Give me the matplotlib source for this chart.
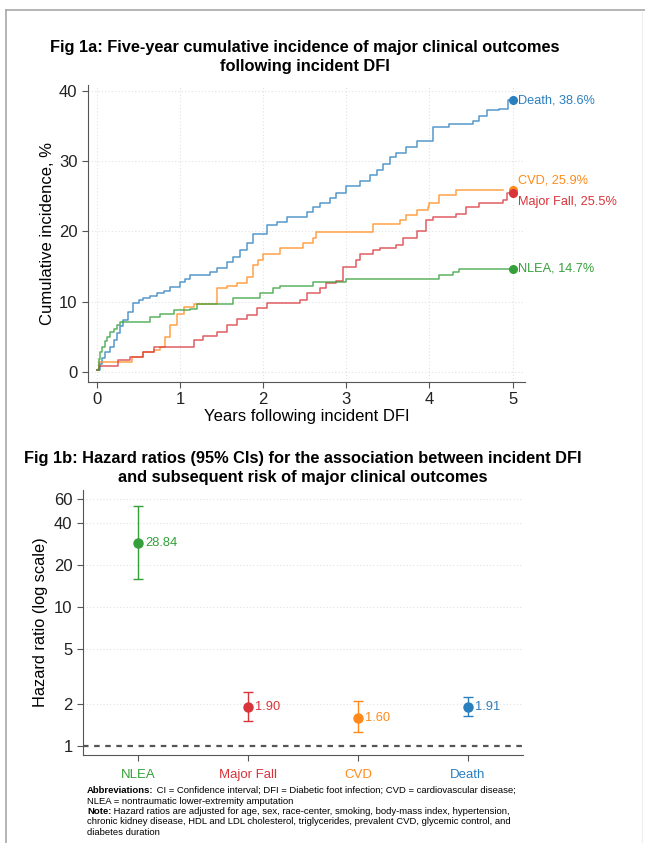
import matplotlib
matplotlib.use("Agg")
import matplotlib.pyplot as plt
from matplotlib.lines import Line2D
from matplotlib.ticker import FixedLocator, NullLocator

plt.rcParams["font.family"] = ["Liberation Sans", "DejaVu Sans"]

# Fig 1a: cumulative incidence step curves (years, %)
death_t = [0, 0.03, 0.06, 0.1, 0.16, 0.2, 0.24, 0.28, 0.31, 0.37, 0.43, 0.5, 0.55, 0.64, 0.72, 0.8,
           0.88, 1.0, 1.06, 1.12, 1.36, 1.44, 1.56, 1.64, 1.72, 1.8, 1.88, 2.04, 2.16, 2.28, 2.52,
           2.6, 2.68, 2.8, 2.88, 3.0, 3.16, 3.28, 3.37, 3.44, 3.52, 3.6, 3.72, 3.85, 4.04, 4.24,
           4.52, 4.6, 4.69, 4.84, 4.95, 5.0]
death_y = [0.3, 1.2, 2.0, 2.8, 3.6, 4.5, 5.5, 6.5, 7.4, 8.6, 9.8, 10.3, 10.5, 10.8, 11.2, 11.6,
           12.1, 12.8, 13.3, 13.8, 14.2, 14.8, 15.6, 16.3, 17.3, 18.4, 19.7, 20.9, 21.4, 22.0, 22.8,
           23.5, 24.1, 24.8, 25.4, 26.5, 27.2, 28.0, 28.7, 29.6, 30.5, 31.2, 32.0, 32.9, 34.8, 35.3,
           35.7, 36.4, 37.2, 37.4, 38.6, 38.6]

cvd_t = [0, 0.02, 0.42, 0.55, 0.68, 0.76, 0.82, 0.88, 0.96, 1.04, 1.16, 1.44, 1.56, 1.68, 1.8,
         1.88, 1.94, 2.0, 2.2, 2.48, 2.6, 2.64, 3.32, 3.64, 3.72, 3.85, 3.98, 4.0, 4.12, 4.32, 4.88]
cvd_y = [0.3, 1.4, 2.1, 2.8, 3.2, 3.6, 5.0, 6.7, 8.3, 9.2, 9.7, 11.9, 12.3, 12.6, 13.5,
         15.2, 16.0, 16.8, 17.7, 18.3, 19.1, 19.9, 21.1, 21.6, 22.3, 23.0, 23.4, 24.1, 25.1, 25.9, 25.9]

fall_t = [0, 0.02, 0.25, 0.4, 0.55, 0.68, 1.16, 1.28, 1.44, 1.56, 1.68, 1.8, 1.92, 2.04, 2.44,
          2.52, 2.68, 2.76, 2.88, 2.96, 3.12, 3.16, 3.32, 3.4, 3.6, 3.68, 3.85, 3.96, 4.04, 4.32,
          4.44, 4.6, 4.88, 4.93, 5.0]
fall_y = [0.3, 0.85, 1.7, 2.1, 2.8, 3.6, 4.5, 5.2, 5.7, 6.7, 7.6, 8.1, 9.1, 9.8, 10.2,
          11.2, 11.9, 12.6, 13.0, 14.9, 15.9, 16.8, 17.3, 17.7, 18.0, 19.1, 20.1, 21.6, 22.0, 22.5,
          23.4, 24.1, 24.4, 25.5, 25.5]

nlea_t = [0, 0.02, 0.04, 0.06, 0.09, 0.12, 0.16, 0.2, 0.24, 0.28, 0.64, 0.76, 0.92, 1.12, 1.2,
          1.64, 1.84, 1.96, 2.12, 2.2, 2.6, 3.0, 4.12, 4.28, 4.36, 5.0]
nlea_y = [0.3, 1.8, 2.8, 3.6, 4.4, 5.0, 5.7, 6.2, 6.7, 7.1, 7.8, 8.3, 8.8, 9.0, 9.7,
          10.5, 10.6, 11.2, 11.9, 12.3, 12.8, 13.3, 13.8, 14.2, 14.7, 14.7]

end_labels = ["Death, 38.6%", "CVD, 25.9%", "Major Fall, 25.5%", "NLEA, 14.7%"]
end_values = [38.6, 25.9, 25.5, 14.7]

# Fig 1b: hazard ratios
outcomes = ["NLEA", "Major Fall", "CVD", "Death"]
hr = [28.84, 1.90, 1.60, 1.91]
hr_lo = [15.9, 1.50, 1.26, 1.64]
hr_hi = [53.6, 2.46, 2.11, 2.26]
hr_ticks = [1, 2, 5, 10, 20, 40, 60]

blue = "#2a7fbf"
orange = "#ff8a1a"
red = "#d8343a"
green = "#34a039"

fig = plt.figure(figsize=(6.45, 8.43), dpi=100)

# page frame
fig.add_artist(Line2D([6 / 645, 1.0], [1 - 10 / 843] * 2, color="#a8a8a8", lw=1.2))
fig.add_artist(Line2D([6 / 645] * 2, [0, 1 - 10 / 843], color="#a8a8a8", lw=1.2))
fig.add_artist(Line2D([642 / 645] * 2, [0, 1 - 12 / 843], color="#f0f0f0", lw=1.0))

# ---- Fig 1a ----
ax1 = fig.add_axes([88 / 645, 1 - 382 / 843, 437 / 645, 297 / 843])
curves = [(death_t, death_y, blue), (cvd_t, cvd_y, orange),
          (fall_t, fall_y, red), (nlea_t, nlea_y, green)]
for t, y, c in curves:
    ax1.plot(t, y, drawstyle="steps-post", color=c, lw=1.1, alpha=0.8)
for (t, y, c), v in zip(curves, end_values):
    ax1.plot([5], [v], "o", color=c, ms=5.5)

label_dy = [0, 1.3, -1.3, 0]
for (t, y, c), v, lab, dy in zip(curves, end_values, end_labels, label_dy):
    ax1.annotate(lab, xy=(5, v + dy), xytext=(4, 0), textcoords="offset points",
                 color=c, fontsize=9.2, va="center", ha="left", annotation_clip=False)

ax1.set_xlim(-0.11, 5.15)
ax1.set_ylim(-1.4, 40.8)
ax1.set_xticks([0, 1, 2, 3, 4, 5])
ax1.set_yticks([0, 10, 20, 30, 40])
ax1.grid(True, linestyle=(0, (1, 2)), color="#e2e2e2", lw=0.8)
for s in ["top", "right"]:
    ax1.spines[s].set_visible(False)
for s in ["left", "bottom"]:
    ax1.spines[s].set_color("#555555")
ax1.tick_params(labelsize=12, colors="#222222", length=4, color="#555555")
ax1.set_xlabel("Years following incident DFI", fontsize=12, labelpad=1)
ax1.set_ylabel("Cumulative incidence, %", fontsize=12, labelpad=3)
fig.text(305 / 645, 1 - 57 / 843,
         "Fig 1a: Five-year cumulative incidence of major clinical outcomes\nfollowing incident DFI",
         ha="center", va="center", fontsize=11.8, fontweight="bold", linespacing=1.4)

# ---- Fig 1b ----
ax2 = fig.add_axes([83 / 645, 1 - 755 / 843, 440 / 645, 265 / 843])
xs = [1, 2, 3, 4]
colors = [green, red, orange, blue]
for x, v, lo, hi, c in zip(xs, hr, hr_lo, hr_hi, colors):
    ax2.errorbar([x], [v], yerr=[[v - lo], [hi - v]], fmt="o", color=c, ms=6.5,
                 capsize=3.5, elinewidth=1.0, capthick=1.0)
    ax2.annotate(f"{v:.2f}", xy=(x, v), xytext=(5, 0), textcoords="offset points",
                 color=c, fontsize=9.3, va="center", ha="left")
ax2.axhline(1, color="#555555", lw=1.6, linestyle=(0, (2.5, 2.5)), zorder=1)
ax2.set_yscale("log")
ax2.set_ylim(0.861, 69.5)
ax2.set_xlim(0.5, 4.5)
ax2.yaxis.set_major_locator(FixedLocator(hr_ticks))
ax2.yaxis.set_minor_locator(NullLocator())
ax2.set_yticklabels([str(v) for v in hr_ticks])
ax2.set_xticks(xs)
ax2.set_xticklabels(outcomes)
for lab, c in zip(ax2.get_xticklabels(), colors):
    lab.set_color(c)
    lab.set_fontsize(9.5)
for v in hr_ticks[1:]:
    ax2.axhline(v, linestyle=(0, (1, 2)), color="#e2e2e2", lw=0.8, zorder=0)
for s in ["top", "right"]:
    ax2.spines[s].set_visible(False)
for s in ["left", "bottom"]:
    ax2.spines[s].set_color("#555555")
ax2.tick_params(axis="y", labelsize=12, colors="#222222", length=4, color="#555555")
ax2.tick_params(axis="x", length=4, color="#555555", pad=6)
ax2.set_ylabel("Hazard ratio (log scale)", fontsize=11.8, labelpad=4)
fig.text(303 / 645, 1 - 468 / 843,
         "Fig 1b: Hazard ratios (95% CIs) for the association between incident DFI\n"
         "and subsequent risk of major clinical outcomes",
         ha="center", va="center", fontsize=11.8, fontweight="bold", linespacing=1.4)

# ---- footnote ----
fn_x = 87 / 645
fs = 6.8
renderer = fig.canvas.get_renderer()


def note_line(y_px, head, body):
    y = 1 - y_px / 843
    if head:
        t = fig.text(fn_x, y, head, fontsize=fs, fontweight="bold", va="baseline")
        x_end = t.get_window_extent(renderer).x1 / fig.bbox.width
        fig.text(x_end, y, " " + body, fontsize=fs, va="baseline")
    else:
        fig.text(fn_x, y, body, fontsize=fs, va="baseline")


note_line(793, "Abbreviations:",
          "CI = Confidence interval; DFI = Diabetic foot infection; CVD = cardiovascular disease;")
note_line(803.5, None, "NLEA = nontraumatic lower-extremity amputation")
note_line(814, "Note:",
          "Hazard ratios are adjusted for age, sex, race-center, smoking, body-mass index, hypertension,")
note_line(824.5, None,
          "chronic kidney disease, HDL and LDL cholesterol, triglycerides, prevalent CVD, glycemic control, and")
note_line(835, None, "diabetes duration")

fig.savefig("out.png", dpi=100)
